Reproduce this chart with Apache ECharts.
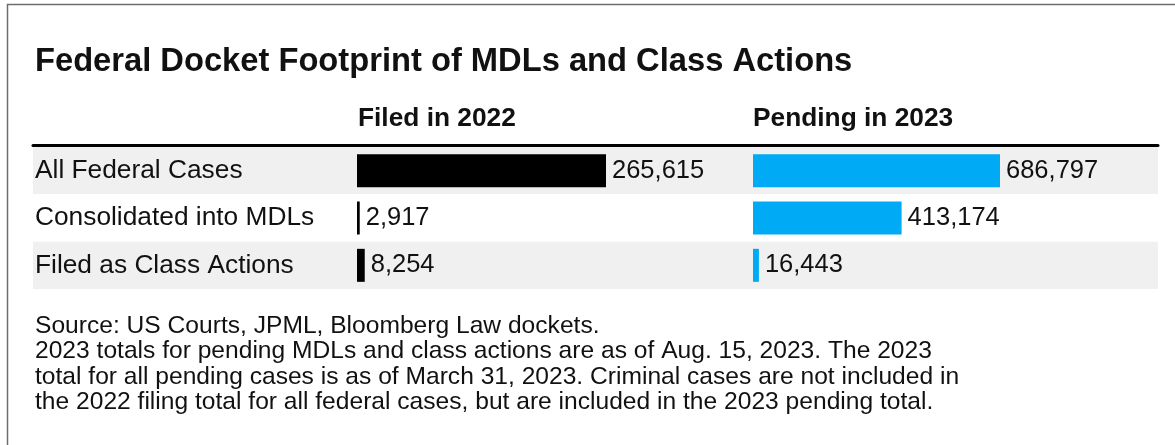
<!DOCTYPE html>
<html>
<head>
<meta charset="utf-8">
<script src="https://cdn.jsdelivr.net/npm/echarts@6/dist/echarts.min.js"></script>
<style>
  html, body { margin: 0; padding: 0; background: #ffffff; }
  #chart { width: 1175px; height: 445px; }
</style>
</head>
<body>
<div id="chart"></div>
<script>
// Docket counts by case type
const categories = ['All Federal Cases', 'Consolidated into MDLs', 'Filed as Class Actions'];
const filed2022 = [265615, 2917, 8254];
const pending2023 = [686797, 413174, 16443];
const columnHeaders = ['Filed in 2022', 'Pending in 2023'];
const titleText = 'Federal Docket Footprint of MDLs and Class Actions';
const noteLines = [
  'Source: US Courts, JPML, Bloomberg Law dockets.',
  '2023 totals for pending MDLs and class actions are as of Aug. 15, 2023. The 2023',
  'total for all pending cases is as of March 31, 2023. Criminal cases are not included in',
  'the 2022 filing total for all federal cases, but are included in the 2023 pending total.'
];

const FONT = 'Liberation Sans, Arial, Helvetica, sans-serif';
const INK = '#111111';
const fmt = v => v.toLocaleString('en-US');

const rowTop = 147, rowHeight = 142;

function barSeries(data, axisIdx, color) {
  return {
    type: 'bar',
    xAxisIndex: axisIdx,
    yAxisIndex: axisIdx,
    data: data,
    barWidth: 33,
    itemStyle: { color: color },
    label: {
      show: true,
      position: 'right',
      distance: 6,
      formatter: p => fmt(p.value),
      fontFamily: FONT,
      fontSize: 25.5,
      color: INK
    },
    silent: true
  };
}

const chart = echarts.init(document.getElementById('chart'), null, { renderer: 'canvas' });
chart.setOption({
  backgroundColor: '#ffffff',
  animation: false,
  title: [
    { text: titleText, left: 30, top: 40,
      textStyle: { fontFamily: FONT, fontSize: 32.7, fontWeight: 'bold', color: INK } },
    { text: columnHeaders[0], left: 353, top: 100.5,
      textStyle: { fontFamily: FONT, fontSize: 26.3, fontWeight: 'bold', color: INK } },
    { text: columnHeaders[1], left: 748, top: 100.5,
      textStyle: { fontFamily: FONT, fontSize: 26.3, fontWeight: 'bold', color: INK } },
    { text: noteLines.join('\n'), left: 30, top: 308,
      textStyle: { fontFamily: FONT, fontSize: 24.6, fontWeight: 'normal', color: INK, lineHeight: 25.5 } }
  ],
  graphic: [
    { type: 'rect', silent: true, z: 100,
      shape: { x: 7.5, y: 4.5, width: 1400, height: 700 },
      style: { fill: 'none', stroke: '#6e6e6e', lineWidth: 1.5 } }
  ],
  grid: [
    { left: 33, right: 17, top: rowTop, height: rowHeight },
    { left: 357, width: 249, top: rowTop, height: rowHeight },
    { left: 753, width: 247, top: rowTop, height: rowHeight }
  ],
  xAxis: [
    { gridIndex: 0, type: 'value', position: 'top', offset: 2, min: 0, max: 1,
      axisLine: { show: true, lineStyle: { color: '#000000', width: 3 } },
      axisTick: { show: false }, axisLabel: { show: false }, splitLine: { show: false } },
    { gridIndex: 1, type: 'value', min: 0, max: 'dataMax', show: false },
    { gridIndex: 2, type: 'value', min: 0, max: 'dataMax', show: false }
  ],
  yAxis: [
    { gridIndex: 0, type: 'category', inverse: true, data: categories,
      axisLine: { show: false }, axisTick: { show: false },
      axisLabel: { inside: true, margin: 2, fontFamily: FONT, fontSize: 26.3, color: INK },
      splitArea: { show: true, areaStyle: { color: ['#f0f0f0', '#ffffff'] } },
      splitLine: { show: false } },
    { gridIndex: 1, type: 'category', inverse: true, data: categories, show: false },
    { gridIndex: 2, type: 'category', inverse: true, data: categories, show: false }
  ],
  series: [
    barSeries(filed2022, 1, '#000000'),
    barSeries(pending2023, 2, '#00aaf5')
  ]
});
</script>
</body>
</html>
